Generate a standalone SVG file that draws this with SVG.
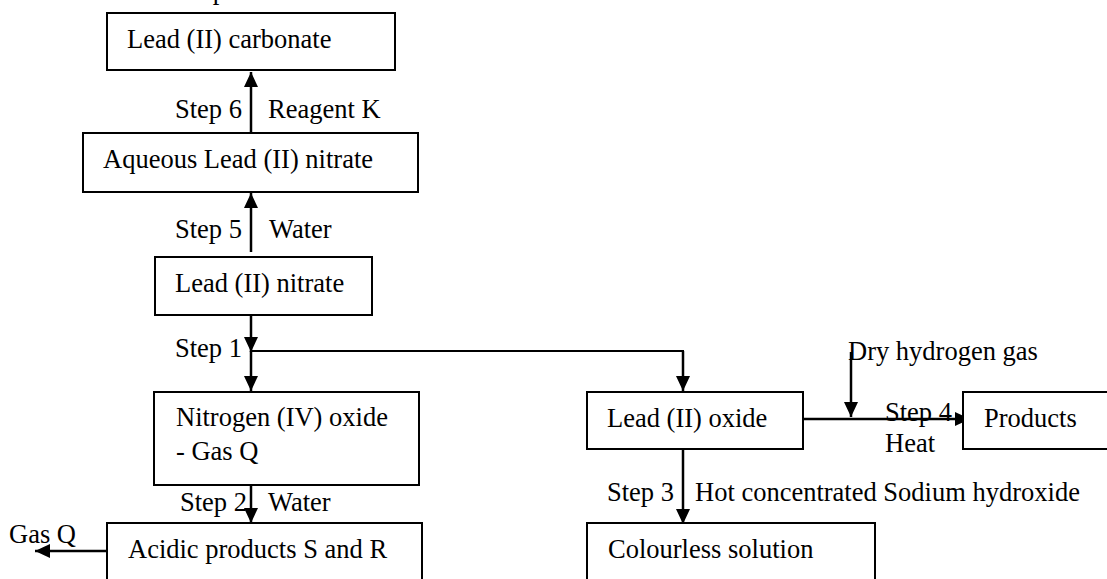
<svg xmlns="http://www.w3.org/2000/svg" width="1107" height="579" viewBox="0 0 1107 579">
<style>
text{font-family:"Liberation Serif","Times New Roman",serif;font-size:26.5px;fill:#000}
.box{fill:#fff;stroke:#000;stroke-width:2}
.c{fill:none;stroke:#000;stroke-width:2.5}
.h{fill:none;stroke:#000;stroke-width:2}
</style>
<defs>
<marker id="ah" viewBox="0 0 15 14" markerWidth="15" markerHeight="14" refX="15" refY="7" orient="auto" markerUnits="userSpaceOnUse">
<path d="M0,0 L15,7 L0,14 Z" fill="#000"/>
</marker>
</defs>
<rect width="1107" height="579" fill="#fff"/>
<text x="179" y="-1.5">Step</text>
<g id="connectors">
<line class="c" x1="251" y1="132" x2="251" y2="72" marker-end="url(#ah)"/>
<line class="c" x1="251" y1="252" x2="251" y2="193" marker-end="url(#ah)"/>
<line class="c" x1="251" y1="316" x2="251" y2="352" marker-end="url(#ah)"/>
<polyline class="h" points="251,351 683,351 683,352"/>
<line class="c" x1="683" y1="351" x2="683" y2="391" marker-end="url(#ah)"/>
<line class="c" x1="251" y1="351" x2="251" y2="391" marker-end="url(#ah)"/>
<line class="c" x1="251" y1="486" x2="251" y2="523" marker-end="url(#ah)"/>
<line class="c" x1="683" y1="450" x2="683" y2="524" marker-end="url(#ah)"/>
<line class="c" x1="804" y1="419" x2="970" y2="419" marker-end="url(#ah)"/>
<line class="c" x1="851" y1="352" x2="851" y2="417" marker-end="url(#ah)"/>
<line class="c" x1="106" y1="551" x2="35" y2="551" marker-end="url(#ah)"/>
</g>
<g id="labels">
<text x="175" y="118">Step 6</text>
<text x="268" y="118">Reagent K</text>
<text x="175" y="238">Step 5</text>
<text x="269" y="238">Water</text>
<text x="175" y="357">Step 1</text>
<text x="180" y="511">Step 2</text>
<text x="268" y="511">Water</text>
<text x="607" y="501">Step 3</text>
<text x="695" y="501">Hot concentrated Sodium hydroxide</text>
<text x="848" y="360">Dry hydrogen gas</text>
<text x="885" y="421">Step 4</text>
<text x="885" y="452">Heat</text>
<text x="9" y="543">Gas Q</text>
</g>
<g id="lead-carbonate">
<rect class="box" x="107" y="13" width="288" height="57"/>
<text x="127" y="48">Lead (II) carbonate</text>
</g>
<g id="aqueous-lead-nitrate">
<rect class="box" x="83" y="133" width="335" height="59"/>
<text x="103" y="168">Aqueous Lead (II) nitrate</text>
</g>
<g id="lead-nitrate">
<rect class="box" x="155" y="257" width="217" height="58"/>
<text x="175" y="292">Lead (II) nitrate</text>
</g>
<g id="nitrogen-oxide">
<rect class="box" x="154" y="392" width="265" height="93"/>
<text x="176" y="426">Nitrogen (IV) oxide</text>
<text x="176" y="460">- Gas Q</text>
</g>
<g id="acidic-products">
<rect class="box" x="107" y="523" width="315" height="80"/>
<text x="128" y="558">Acidic products S and R</text>
</g>
<g id="lead-oxide">
<rect class="box" x="587" y="392" width="216" height="57"/>
<text x="607" y="427">Lead (II) oxide</text>
</g>
<g id="products">
<rect class="box" x="963" y="392" width="160" height="57"/>
<text x="984" y="427">Products</text>
</g>
<g id="colourless-solution">
<rect class="box" x="587" y="523" width="288" height="80"/>
<text x="608" y="558">Colourless solution</text>
</g>
</svg>
